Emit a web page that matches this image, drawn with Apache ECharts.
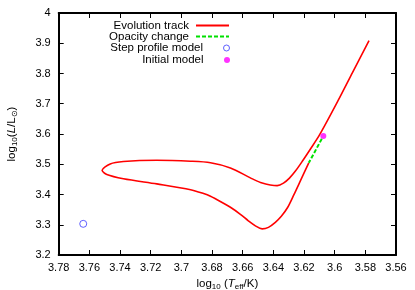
<!DOCTYPE html>
<html>
<head>
<meta charset="utf-8">
<script src="https://cdn.jsdelivr.net/npm/echarts@6/dist/echarts.min.js"></script>
<style>html,body{margin:0;padding:0;background:#fff}#c{width:415px;height:290px}</style>
</head>
<body>
<div id="c"></div>
<script>
// Data: [log10 Teff, log10 L/Lsun]
var trackTeff = [3.6169,3.6223,3.6269,3.6308,3.6348,3.6387,3.6432,3.6473,3.6517,3.6563,3.6615,3.6680,3.6746,3.6810,3.6855,3.6940,3.7160,3.7378,3.7486,3.7517,3.7464,3.7378,3.7160,3.6940,3.6810,3.6680,3.6550,3.6484,3.6375,3.6334,3.6295,3.6256,3.6210,3.6158,3.6097,3.5979,3.5883,3.5776];
var trackLum  = [3.5047,3.4458,3.396,3.3561,3.3279,3.308,3.2914,3.2864,3.2963,3.313,3.3346,3.3578,3.377,3.394,3.403,3.416,3.435,3.452,3.466,3.480,3.501,3.509,3.513,3.510,3.505,3.488,3.455,3.440,3.4292,3.4375,3.4542,3.4774,3.5106,3.5505,3.5987,3.7093,3.804,3.9086];
var opacityTeff = [3.6084, 3.6169];
var opacityLum  = [3.584, 3.5047];
var stepTeff = [3.764];
var stepLum  = [3.303];
var initTeff = [3.6074];
var initLum  = [3.593];
var seriesNames = ['Evolution track','Opacity change','Step profile model','Initial model'];
var xTicks = {min: 3.56, max: 3.78, step: 0.02};
var yTicks = {min: 3.2, max: 4.0, step: 0.1};

function zip(a, b){ return a.map(function(v,i){ return [v, b[i]]; }); }

var FONT = 'Liberation Sans';
var chart = echarts.init(document.getElementById('c'), null, {renderer:'canvas'});
var axisLine = {show:true, lineStyle:{color:'#000', width:2}};
var tickStyle = {show:true, inside:true, length:5, lineStyle:{color:'#000', width:1}};
var richName = {
  a:{fontFamily:FONT, fontSize:11.5, color:'#000'},
  i:{fontFamily:FONT, fontSize:11.5, color:'#000', fontStyle:'italic'},
  s:{fontFamily:FONT, fontSize:8, color:'#000', padding:[6,0,0,0]}
};
function legendFor(name, top, w, h, itemStyle){
  var l = {
    data:[name], orient:'vertical', right:185, top:top, padding:0,
    align:'right', itemWidth:w, itemHeight:h, selectedMode:false,
    textStyle:{color:'#000', fontFamily:FONT, fontSize:11.5, lineHeight:12, padding:[0,2,0,0]}
  };
  if (itemStyle) l.itemStyle = itemStyle;
  return l;
}
var option = {
  animation:false,
  backgroundColor:'#fff',
  grid:{left:58.7, right:19, top:13, bottom:35, containLabel:false, outerBoundsMode:'none'},
  legend:[
    legendFor(seriesNames[0], 19.5, 33, 8, {opacity:0}),
    legendFor(seriesNames[1], 30.5, 33, 8, {opacity:0}),
    legendFor(seriesNames[2], 42, 33, 6, {borderWidth:1, borderColor:'#3a3aff', color:'rgba(255,255,255,0)'}),
    legendFor(seriesNames[3], 54, 33, 6, null)
  ],
  xAxis:[{
    type:'value', min:xTicks.min, max:xTicks.max, interval:xTicks.step, inverse:true,
    axisLine:axisLine, axisTick:tickStyle, splitLine:{show:false},
    axisLabel:{show:true, margin:7, color:'#000', fontFamily:FONT, fontSize:11,
      formatter:function(v){ return String(+v.toFixed(2)); }},
    name:'{a|log}{s|10}{a| (}{i|T}{s|eff}{a|/K)}', nameLocation:'middle', nameGap:22,
    nameTextStyle:{rich:richName}
  },{
    type:'value', position:'top', min:xTicks.min, max:xTicks.max, interval:xTicks.step, inverse:true,
    axisLine:axisLine, axisTick:tickStyle, axisLabel:{show:false}, splitLine:{show:false}
  }],
  yAxis:[{
    type:'value', min:yTicks.min, max:yTicks.max, interval:yTicks.step,
    axisLine:axisLine, axisTick:tickStyle, splitLine:{show:false},
    axisLabel:{show:true, margin:8, color:'#000', fontFamily:FONT, fontSize:11,
      formatter:function(v){ return String(+v.toFixed(1)); }},
    name:'{a|log}{s|10}{a|(}{i|L}{a|/L}{s|⊙}{a|)}', nameLocation:'middle', nameGap:40, nameRotate:90,
    nameTextStyle:{rich:richName}
  },{
    type:'value', position:'right', min:yTicks.min, max:yTicks.max, interval:yTicks.step,
    axisLine:axisLine, axisTick:tickStyle, axisLabel:{show:false}, splitLine:{show:false}
  }],
  series:[
    {name:seriesNames[0], type:'line', data:zip(trackTeff, trackLum), smooth:0.3,
     symbol:'none', lineStyle:{color:'#ff0000', width:1.6}, itemStyle:{color:'#ff0000'}, z:2},
    {name:seriesNames[1], type:'line', data:zip(opacityTeff, opacityLum),
     symbol:'none', lineStyle:{color:'#00e000', width:2, type:[4,2]}, itemStyle:{color:'#00e000'}, z:3},
    {name:seriesNames[2], type:'scatter', data:zip(stepTeff, stepLum), symbol:'circle', symbolSize:7,
     itemStyle:{color:'rgba(255,255,255,0)', borderColor:'#3a3aff', borderWidth:1}, z:4},
    {name:seriesNames[3], type:'scatter', data:zip(initTeff, initLum), symbol:'circle', symbolSize:6,
     itemStyle:{color:'#ff00ff'}, z:5}
  ]
};
chart.setOption(option);
</script>
</body>
</html>
